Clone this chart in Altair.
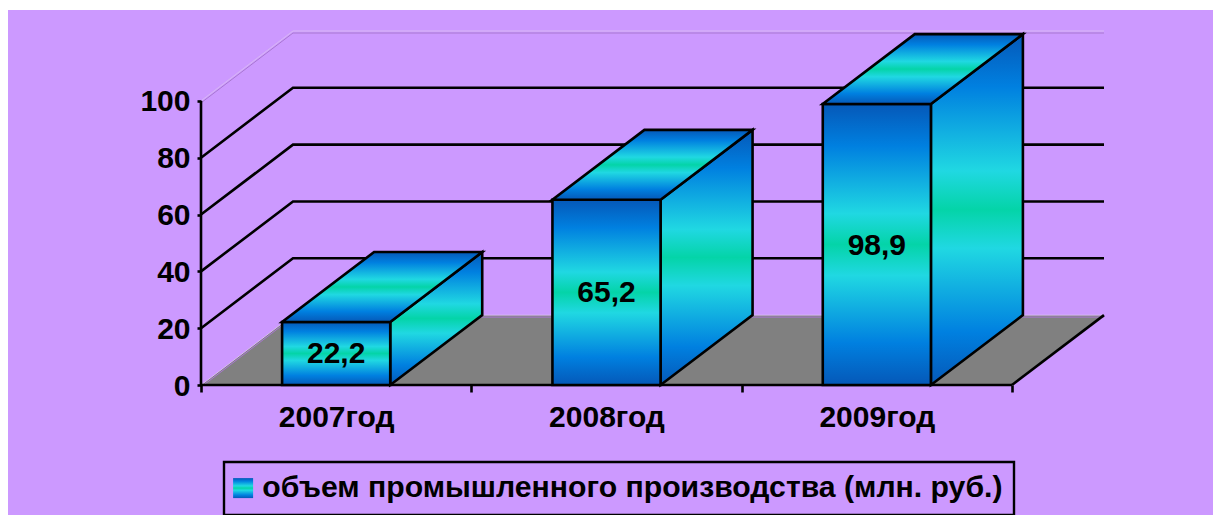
import altair as alt
import pandas as pd

categories = ["2007год", "2008год", "2009год"]
values = [22.2, 65.2, 98.9]
value_labels = ["22,2", "65,2", "98,9"]
grid_values = [20, 40, 60, 80]
pale_values = [0, 100]
y_ticks = [0, 20, 40, 60, 80, 100]
legend_name = "объем промышленного производства (млн. руб.)"

DX = 0.3403   # depth of the 3D box in category units
DY = 24.6     # depth of the 3D box in value units
BAR = 0.4     # bar width in category units
FONT = "Liberation Sans"
FS = 30
LW = 2.6
BG = "#CC99FF"
stops = [(0, "#0558B8"), (0.15, "#0080E0"), (0.39, "#20D8E2"), (0.5, "#04D4A8"),
         (0.61, "#20D8E2"), (0.85, "#0080E0"), (1, "#0558B8")]
grad = alt.Gradient(gradient="linear", x1=0, y1=0, x2=0, y2=1,
                    stops=[alt.GradientStop(offset=o, color=c) for o, c in stops])

xs = alt.Scale(domain=[0, 3 + DX], nice=False, zero=False)
ys = alt.Scale(domain=[0, 100 + DY], nice=False, zero=False)
lab_expr = "datum.value==0.5?'%s':datum.value==1.5?'%s':datum.value==2.5?'%s':''" % tuple(categories)
X = alt.X("x:Q", scale=xs, title=None, axis=alt.Axis(
    values=[0, 0.5, 1, 1.5, 2, 2.5, 3], labelExpr=lab_expr, domain=False, grid=False,
    tickColor="black", tickWidth=LW, tickSize=7,
    tickOpacity={"condition": {"test": "datum.value % 1 != 0", "value": 0}, "value": 1},
    labelFont=FONT, labelFontSize=FS, labelFontWeight="bold", labelColor="black",
    labelPadding=10, labelAngle=0, labelOverlap=False, labelBound=False, labelFlush=False, zindex=1))
Y = alt.Y("y:Q", scale=ys, title=None, axis=alt.Axis(
    values=y_ticks, domain=False, grid=False, tickColor="black", tickWidth=LW, tickSize=4,
    labelFont=FONT, labelFontSize=FS, labelFontWeight="bold", labelColor="black", labelOffset=1,
    labelPadding=7, labelOverlap=False, labelBound=False, labelFlush=False, format="d", zindex=1))

front, side, top, labels = [], [], [], []
for i, v in enumerate(values):
    c = i + 0.5
    l, r = c - BAR / 2, c + BAR / 2
    front += [dict(b=i, x=l, y=0, y2=v), dict(b=i, x=r, y=0, y2=v)]
    side += [dict(b=i, x=r, y=0, y2=v), dict(b=i, x=r + DX, y=DY, y2=v + DY)]
    top += [dict(b=i, y=v, x=l, x2=r), dict(b=i, y=v + DY, x=l + DX, x2=r + DX)]
    labels.append(dict(x=c, y=v / 2, t=value_labels[i]))

floor = [dict(y=0, x=0, x2=3), dict(y=DY, x=DX, x2=3 + DX)]

def wall(vals):
    rows = []
    for v in vals:
        rows += [dict(g=v, o=0, x=0, y=v), dict(g=v, o=1, x=DX, y=v + DY), dict(g=v, o=2, x=3 + DX, y=v + DY)]
    return pd.DataFrame(rows)

bg = alt.Chart(pd.DataFrame({"a": [0]})).mark_rect(color=BG).encode(
    x=alt.value(-193), x2=alt.value(1012), y=alt.value(-21), y2=alt.value(484))

floor_l = alt.Chart(pd.DataFrame(floor)).mark_area(orient="horizontal", color="#808080").encode(
    x=X, x2="x2:Q", y=Y)

pale1 = alt.Chart(wall(pale_values)).mark_line(color="#D8B8F4", strokeWidth=1).encode(
    x=X, y=Y, detail="g:N", order="o:Q")
pale2 = alt.Chart(wall(pale_values)).mark_line(color="#A878D0", strokeWidth=1, yOffset=2).encode(
    x=X, y=Y, detail="g:N", order="o:Q")
grid = alt.Chart(wall(grid_values)).mark_line(color="black", strokeWidth=LW).encode(
    x=X, y=Y, detail="g:N", order="o:Q")

x_axis = alt.Chart(pd.DataFrame({"x": [0], "x2": [3], "y": [0]})).mark_rule(color="black", strokeWidth=LW).encode(
    x=X, x2="x2:Q", y=Y)
y_axis = alt.Chart(pd.DataFrame({"x": [0], "y": [0], "y2": [100]})).mark_rule(color="black", strokeWidth=LW).encode(
    x=X, y=Y, y2="y2:Q")
edge = alt.Chart(pd.DataFrame({"x": [3], "x2": [3 + DX], "y": [0], "y2": [DY]})).mark_rule(color="black", strokeWidth=LW).encode(
    x=X, x2="x2:Q", y=Y, y2="y2:Q")

side_l = alt.Chart(pd.DataFrame(side)).mark_area(orient="vertical", fill=grad, stroke="black", strokeWidth=LW).encode(
    x=X, y=Y, y2="y2:Q", detail="b:N")
front_l = alt.Chart(pd.DataFrame(front)).mark_area(orient="vertical", fill=grad, stroke="black", strokeWidth=LW).encode(
    x=X, y=Y, y2="y2:Q", detail="b:N")
top_l = alt.Chart(pd.DataFrame(top)).mark_area(orient="horizontal", fill=grad, stroke="black", strokeWidth=LW).encode(
    x=X, x2="x2:Q", y=Y, detail="b:N")
text_l = alt.Chart(pd.DataFrame(labels)).mark_text(
    font=FONT, fontSize=FS, fontWeight="bold", color="black", baseline="middle", align="center", dy=1).encode(
    x=X, y=Y, text="t:N")

legend = alt.Chart(pd.DataFrame({"x": [0], "y": [0], "n": [legend_name]})).mark_point(
    opacity=0, filled=False, fill=grad, stroke="black", strokeWidth=2).encode(
    x=X, y=Y,
    shape=alt.Shape("n:N", scale=alt.Scale(domain=[legend_name], range=["square"]), legend=alt.Legend(
        orient="none", legendX=23, legendY=431, title=None, padding=11,
        strokeColor="black",
        symbolSize=400, symbolStrokeColor="black",
        symbolStrokeWidth=2.5, symbolOpacity=1, symbolType="square", symbolOffset=-7,
        labelFont=FONT, labelFontSize=30.2, labelFontWeight="bold", labelColor="black",
        labelLimit=900, labelOffset=4)))

# the page's flex container limits the canvas to 1205 px without scaling
chart = alt.layer(bg, floor_l, pale1, pale2, grid, x_axis, y_axis, edge, side_l, front_l, top_l, text_l, legend).properties(
    width=903, height=354, background="white",
    padding={"left": 193, "top": 23, "right": 109, "bottom": 130},
    autosize=alt.AutoSizeParams(type="none"),
).configure_view(stroke=None).configure_legend(strokeWidth=2.4)

chart.save("out.html", embed_options={"renderer": "svg", "actions": False})
